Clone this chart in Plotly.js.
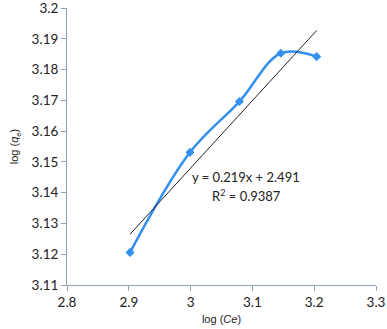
<!DOCTYPE html>
<html>
<head>
<meta charset="utf-8">
<script src="https://cdn.plot.ly/plotly-3.0.1.min.js"></script>
<style>
  html, body { margin: 0; padding: 0; background: #fff; }
  #chart { width: 387px; height: 329px; }
</style>
</head>
<body>
<div id="chart"></div>
<script>
// data
const logCe = [2.902, 2.999, 3.079, 3.146, 3.204];
const logQe = [3.1206, 3.1531, 3.1696, 3.1853, 3.1842];

// linear trend line ends
const trendX = [2.902, 3.204];
const trendY = [3.1265, 3.1927];

const xTicks = [2.8, 2.9, 3, 3.1, 3.2, 3.3];
const yTicks = [3.11, 3.12, 3.13, 3.14, 3.15, 3.16, 3.17, 3.18, 3.19, 3.2];

const axisColor = '#8fa3b6';
const tickFont = { family: 'Lato, Carlito, "Liberation Sans", sans-serif', size: 13.5, color: '#222' };
const titleFont = { family: '"Liberation Sans", Arial, sans-serif', size: 11, color: '#222' };
const noteFont = { family: 'Lato, Carlito, "Liberation Sans", sans-serif', size: 13, color: '#222' };

const series = {
  x: logCe,
  y: logQe,
  mode: 'lines+markers',
  line: { color: '#3390ef', width: 2.5, shape: 'spline', smoothing: 1 },
  marker: { symbol: 'diamond', size: 7, color: '#3390ef' },
  hoverinfo: 'none'
};

const trend = {
  x: trendX,
  y: trendY,
  mode: 'lines',
  line: { color: '#222', width: 1 },
  hoverinfo: 'none'
};

const layout = {
  width: 387,
  height: 329,
  margin: { l: 67, r: 11, t: 8, b: 44 },
  showlegend: false,
  paper_bgcolor: '#fff',
  plot_bgcolor: '#fff',
  xaxis: {
    range: [2.8, 3.3],
    tickvals: xTicks,
    ticktext: xTicks.map(String),
    showgrid: false,
    zeroline: false,
    showline: true,
    linecolor: axisColor,
    linewidth: 1,
    ticks: 'outside',
    ticklen: 5,
    tickcolor: axisColor,
    tickfont: tickFont,
    ticklabeloverflow: 'allow',
    title: { text: 'log (<i>Ce</i>)', font: titleFont, standoff: 6 }
  },
  yaxis: {
    range: [3.11, 3.2],
    tickvals: yTicks,
    ticktext: yTicks.map(String),
    showgrid: false,
    zeroline: false,
    showline: true,
    linecolor: axisColor,
    linewidth: 1,
    ticks: 'outside',
    ticklen: 5,
    tickcolor: axisColor,
    tickfont: tickFont,
    ticklabeloverflow: 'allow',
    title: { text: 'log (<i>q</i><sub>e</sub>)', font: titleFont, standoff: 10 }
  },
  annotations: [
    {
      x: 2.999, y: 3.145, xref: 'x', yref: 'y', xanchor: 'left', yanchor: 'middle',
      text: 'y = 0.219x + 2.491', showarrow: false, font: noteFont
    },
    {
      x: 3.032, y: 3.1392, xref: 'x', yref: 'y', xanchor: 'left', yanchor: 'middle',
      text: 'R<sup>2</sup> = 0.9387', showarrow: false, font: noteFont
    }
  ]
};

Plotly.newPlot('chart', [series, trend], layout, { staticPlot: true });
</script>
</body>
</html>
